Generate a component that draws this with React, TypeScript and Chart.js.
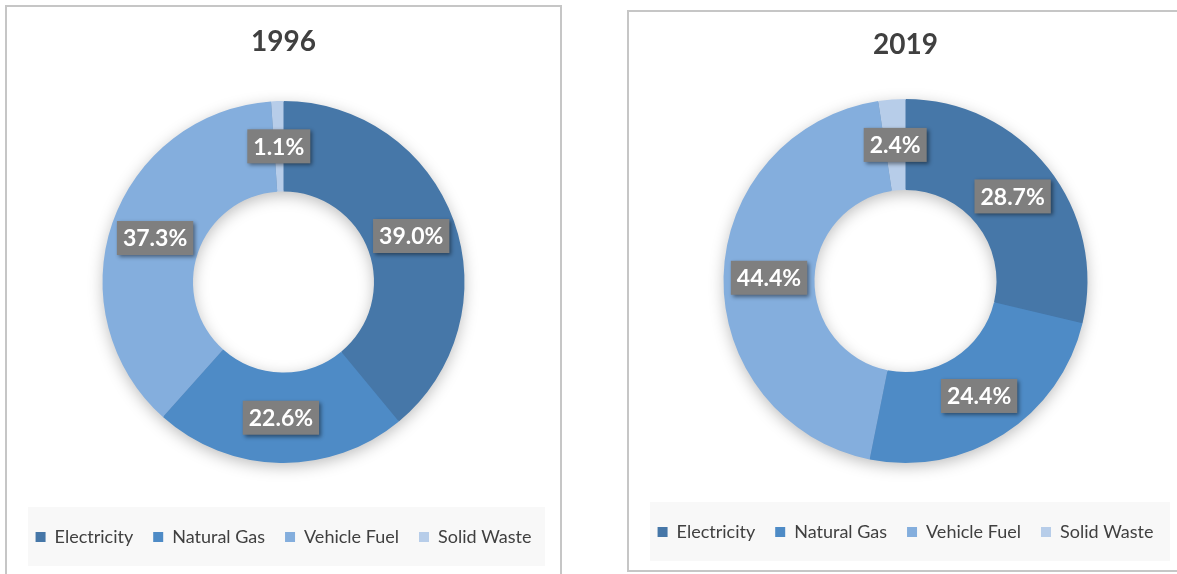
import React, { useEffect, useRef } from "react";
import { Chart, registerables } from "chart.js";

Chart.register(...registerables);

const categories = ["Electricity", "Natural Gas", "Vehicle Fuel", "Solid Waste"];
const values1996 = [39.0, 22.6, 37.3, 1.1];
const values2019 = [28.7, 24.4, 44.4, 2.4];
const colors = ["#4677A8", "#4E8BC6", "#84AEDD", "#B7CDE9"];

const FONT = "Lato, 'Noto Sans', sans-serif";

const decorPlugin = {
  id: "decor",
  beforeDraw(chart: any, _args: any, opts: any) {
    const ctx = chart.ctx;
    const lg = chart.legend;
    const cy = lg.top + 20 + 9;
    ctx.save();
    ctx.fillStyle = "#F8F8F8";
    ctx.fillRect(opts.bgLeft, cy - 30, chart.width - opts.bgLeft - opts.bgRight, 59);
    ctx.restore();
  },
  beforeDatasetsDraw(chart: any) {
    const ctx = chart.ctx;
    const meta = chart.getDatasetMeta(0);
    const arc = meta.data[0];
    if (!arc) return;
    const { x, y, outerRadius, innerRadius } = arc.getProps(["x", "y", "outerRadius", "innerRadius"]);
    ctx.save();
    ctx.shadowColor = "rgba(0,0,0,0.28)";
    ctx.shadowBlur = 16;
    ctx.shadowOffsetY = 4;
    ctx.beginPath();
    ctx.arc(x, y, outerRadius - 1, 0, Math.PI * 2);
    ctx.arc(x, y, innerRadius + 1, 0, Math.PI * 2, true);
    ctx.fillStyle = colors[0];
    ctx.fill();
    ctx.restore();
  },
  afterDatasetsDraw(chart: any) {
    const ctx = chart.ctx;
    const meta = chart.getDatasetMeta(0);
    const data = chart.data.datasets[0].data as number[];
    ctx.save();
    ctx.font = `bold 23px ${FONT}`;
    ctx.textAlign = "center";
    ctx.textBaseline = "middle";
    meta.data.forEach((arc: any, i: number) => {
      const p = arc.tooltipPosition();
      const text = data[i].toFixed(1) + "%";
      const w = ctx.measureText(text).width + 12;
      const h = 34;
      ctx.shadowColor = "rgba(0,0,0,0.45)";
      ctx.shadowBlur = 4;
      ctx.shadowOffsetX = 2;
      ctx.shadowOffsetY = 2;
      ctx.fillStyle = "#7F7F7F";
      ctx.fillRect(p.x - w / 2, p.y - h / 2, w, h);
      ctx.shadowColor = "transparent";
      ctx.shadowBlur = 0;
      ctx.shadowOffsetX = 0;
      ctx.shadowOffsetY = 0;
      ctx.fillStyle = "#FFFFFF";
      ctx.fillText(text, p.x, p.y + 1);
    });
    ctx.restore();
  },
};

type DonutProps = {
  title: string;
  values: number[];
  width: number;
  height: number;
  radius: number;
  titleTop: number;
  bottomPad: number;
  bgLeft: number;
  bgRight: number;
};

function Donut(props: DonutProps) {
  const ref = useRef<HTMLCanvasElement | null>(null);
  useEffect(() => {
    if (!ref.current) return;
    const chart = new Chart(ref.current, {
      type: "doughnut",
      data: {
        labels: categories,
        datasets: [
          {
            data: props.values,
            backgroundColor: colors,
            borderWidth: 0,
          },
        ],
      },
      plugins: [decorPlugin as any],
      options: {
        responsive: false,
        animation: false,
        events: [],
        radius: props.radius,
        cutout: "50%",
        layout: { padding: { top: 0, bottom: props.bottomPad, left: 0, right: 0 } },
        plugins: {
          tooltip: { enabled: false },
          title: {
            display: true,
            text: props.title,
            color: "#404040",
            font: { family: FONT, size: 28, weight: "bold", lineHeight: 1 },
            padding: { top: props.titleTop, bottom: 0 },
          },
          legend: {
            display: true,
            position: "bottom",
            labels: {
              color: "#404040",
              font: { family: FONT, size: 18 },
              boxWidth: 10,
              boxHeight: 10,
              padding: 20,
            },
          },
          decor: { bgLeft: props.bgLeft, bgRight: props.bgRight },
        } as any,
      } as any,
    });
    return () => chart.destroy();
  }, []);
  return <canvas ref={ref} width={props.width} height={props.height} style={{ display: "block" }} />;
}

export default function App() {
  return (
    <div
      style={{
        position: "fixed",
        left: 0,
        top: 0,
        width: 1177,
        height: 574,
        overflow: "hidden",
        background: "#FFFFFF",
      }}
    >
      <div
        style={{
          position: "absolute",
          left: 5,
          top: 5,
          width: 553,
          height: 590,
          border: "2px solid #C6C6C6",
          overflow: "hidden",
        }}
      >
        <Donut
          title="1996"
          values={values1996}
          width={553}
          height={567}
          radius={181}
          titleTop={21}
          bottomPad={18}
          bgLeft={21}
          bgRight={15}
        />
      </div>
      <div
        style={{
          position: "absolute",
          left: 627,
          top: 10,
          width: 570,
          height: 558,
          border: "2px solid #C6C6C6",
          overflow: "hidden",
        }}
      >
        <Donut
          title="2019"
          values={values2019}
          width={553}
          height={558}
          radius={182}
          titleTop={19}
          bottomPad={19}
          bgLeft={21}
          bgRight={12}
        />
      </div>
    </div>
  );
}
